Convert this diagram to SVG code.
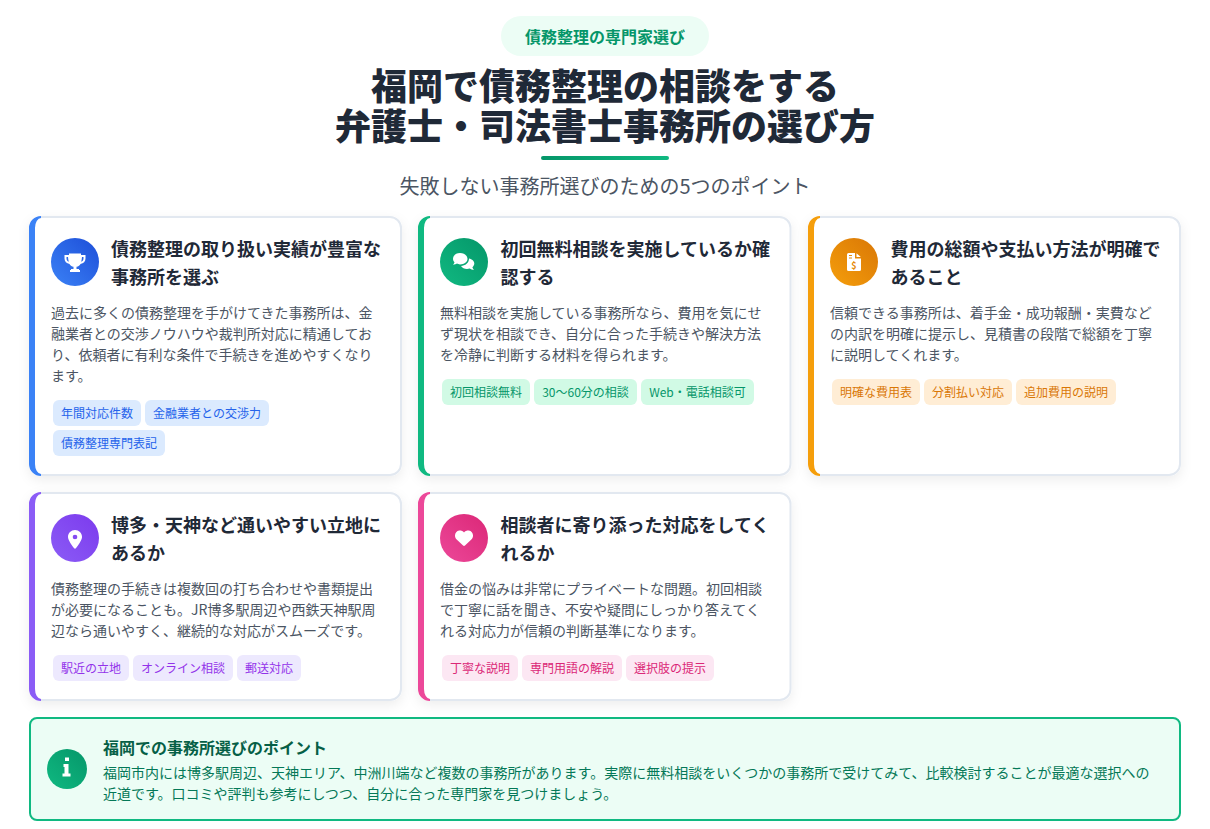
<svg xmlns="http://www.w3.org/2000/svg" width="1210" height="829" viewBox="0 0 1210 829">
<style>
text{font-family:"Noto Sans CJK JP","Noto Sans",sans-serif}
.title{font-size:18px;font-weight:700;fill:#1f2937}
.body{font-size:14px;fill:#4b5563}
.tag{font-size:12px;text-anchor:middle}
.card{fill:#fff;filter:url(#sh)}
.bd{fill:#e2e8f0}
.i{fill:#fff}
.blue .tr{fill:#dbeafe}.blue .tag{fill:#2563eb}.blue .lb{fill:#3b82f6}
.green .tr{fill:#d1fae5}.green .tag{fill:#059669}.green .lb{fill:#10b981}
.orange .tr{fill:#ffedd5}.orange .tag{fill:#d97706}.orange .lb{fill:#f59e0b}
.purple .tr{fill:#ede9fe}.purple .tag{fill:#9333ea}.purple .lb{fill:#8b5cf6}
.pink .tr{fill:#fce7f3}.pink .tag{fill:#db2777}.pink .lb{fill:#ec4899}
</style>
<defs>
<filter id="sh" x="-10%" y="-10%" width="120%" height="125%"><feDropShadow dx="0" dy="4" stdDeviation="6" flood-color="#000" flood-opacity="0.07"/></filter>
<linearGradient id="gb" x1="0" y1="1" x2="1" y2="0"><stop offset="0" stop-color="#3b82f6"/><stop offset="1" stop-color="#1d4ed8"/></linearGradient>
<linearGradient id="gg" x1="0" y1="1" x2="1" y2="0"><stop offset="0" stop-color="#10b981"/><stop offset="1" stop-color="#059669"/></linearGradient>
<linearGradient id="go" x1="0" y1="1" x2="1" y2="0"><stop offset="0" stop-color="#f59e0b"/><stop offset="1" stop-color="#d97706"/></linearGradient>
<linearGradient id="gp" x1="0" y1="1" x2="1" y2="0"><stop offset="0" stop-color="#8b5cf6"/><stop offset="1" stop-color="#7c3aed"/></linearGradient>
<linearGradient id="gk" x1="0" y1="1" x2="1" y2="0"><stop offset="0" stop-color="#ec4899"/><stop offset="1" stop-color="#db2777"/></linearGradient>
<linearGradient id="gl" x1="0" y1="0" x2="1" y2="0"><stop offset="0" stop-color="#059669"/><stop offset="1" stop-color="#10b981"/></linearGradient>
</defs>
<rect width="1210" height="829" fill="#fff"/>

<g id="header">
<rect x="501" y="16" width="208" height="40" rx="20" fill="#ecfdf5"/>
<text x="605" y="43" font-size="16" font-weight="700" fill="#059669" text-anchor="middle">債務整理の専門家選び</text>
<text x="605" y="100" font-size="36" font-weight="900" fill="#1f2937" text-anchor="middle">福岡で債務整理の相談をする</text>
<text x="605" y="140" font-size="36" font-weight="900" fill="#1f2937" text-anchor="middle">弁護士・司法書士事務所の選び方</text>
<rect x="541" y="156" width="128" height="4" rx="2" fill="url(#gl)"/>
<text x="605" y="194" font-size="20" fill="#4b5563" text-anchor="middle">失敗しない事務所選びのための5つのポイント</text>
</g>

<g id="card-1" class="blue">
<rect class="card" x="29" y="216" width="373" height="260" rx="12"/>
<path class="bd" fill-rule="evenodd" d="M41 216H390a12 12 0 0 1 12 12V464a12 12 0 0 1-12 12H41V474H390a10 10 0 0 0 10-10V228a10 10 0 0 0-10-10H41z"/>
<path class="lb" d="M41 216a12 12 0 0 0-12 12V464a12 12 0 0 0 12 12 l0-2a6 10 0 0 1-6-10V228a6 10 0 0 1 6-10z"/>
<circle cx="75" cy="262" r="24" fill="url(#gb)"/>
<path class="i" d="M69 253.500H81V255H85.500V258.500C85.500 261.500 83.500 263.500 80.500 264C79.800 265.500 78.500 266.500 76.500 266.800V269H79V270H80V272H70V270H71V269H73.500V266.800C71.500 266.500 70.200 265.500 69.500 264C66.500 263.500 64.500 261.500 64.500 258.500V255H69ZM66.500 257V258.500C66.500 260 67.300 261.200 68.800 261.800C68.400 260.500 68.100 258.800 68 257ZM83.500 257H82C81.900 258.800 81.600 260.500 81.200 261.800C82.700 261.200 83.500 260 83.500 258.500Z"/>
<text class="title" x="111" y="256">債務整理の取り扱い実績が豊富な</text>
<text class="title" x="111" y="284">事務所を選ぶ</text>
<text class="body" x="51" y="318">過去に多くの債務整理を手がけてきた事務所は、金</text>
<text class="body" x="51" y="339">融業者との交渉ノウハウや裁判所対応に精通してお</text>
<text class="body" x="51" y="360">り、依頼者に有利な条件で手続きを進めやすくなり</text>
<text class="body" x="51" y="381">ます。</text>
<rect class="tr" x="53" y="400" width="88" height="26" rx="6"/><text class="tag" x="97" y="418">年間対応件数</text>
<rect class="tr" x="145" y="400" width="124" height="26" rx="6"/><text class="tag" x="207" y="418">金融業者との交渉力</text>
<rect class="tr" x="53" y="430" width="112" height="26" rx="6"/><text class="tag" x="109" y="448">債務整理専門表記</text>
</g>

<g id="card-2" class="green">
<rect class="card" x="418" y="216" width="373.500" height="260" rx="12"/>
<path class="bd" fill-rule="evenodd" d="M430 216H779.500a12 12 0 0 1 12 12V464a12 12 0 0 1-12 12H430V474H779.500a10 10 0 0 0 10-10V228a10 10 0 0 0-10-10H430z"/>
<path class="lb" d="M430 216a12 12 0 0 0-12 12V464a12 12 0 0 0 12 12 l0-2a6 10 0 0 1-6-10V228a6 10 0 0 1 6-10z"/>
<circle cx="464" cy="262" r="24" fill="url(#gg)"/>
<path class="i" d="M460 253C455.800 253 453 255.700 453 258.800C453 260.200 453.600 261.400 454.500 262.300C454.200 263.400 453.500 264.300 453 264.800C454.600 264.800 456 264.200 456.900 263.600C457.900 264.100 458.900 264.400 460 264.400C464.200 264.400 467.500 262 467.500 258.800C467.500 255.700 464.200 253 460 253Z"/>
<path class="i" d="M469 258.500C469.100 262.900 465.200 265.800 461 266C462.200 268 464.500 269 467 269C468 269 469 268.800 469.800 268.500C470.800 269.200 472.200 269.800 474 269.800C473.400 269.200 472.700 268.300 472.400 267.300C473.400 266.400 474.300 265 474.300 263.500C474.300 261 472 259 469 258.500Z"/>
<text class="title" x="500.500" y="256">初回無料相談を実施しているか確</text>
<text class="title" x="500.500" y="284">認する</text>
<text class="body" x="440" y="318">無料相談を実施している事務所なら、費用を気にせ</text>
<text class="body" x="440" y="339">ず現状を相談でき、自分に合った手続きや解決方法</text>
<text class="body" x="440" y="360">を冷静に判断する材料を得られます。</text>
<rect class="tr" x="442" y="379" width="88" height="26" rx="6"/><text class="tag" x="486" y="397">初回相談無料</text>
<rect class="tr" x="534" y="379" width="103" height="26" rx="6"/><text class="tag" x="585.500" y="397">30～60分の相談</text>
<rect class="tr" x="641" y="379" width="113" height="26" rx="6"/><text class="tag" x="697.500" y="397">Web・電話相談可</text>
</g>

<g id="card-3" class="orange">
<rect class="card" x="808" y="216" width="373" height="260" rx="12"/>
<path class="bd" fill-rule="evenodd" d="M820 216H1169a12 12 0 0 1 12 12V464a12 12 0 0 1-12 12H820V474H1169a10 10 0 0 0 10-10V228a10 10 0 0 0-10-10H820z"/>
<path class="lb" d="M820 216a12 12 0 0 0-12 12V464a12 12 0 0 0 12 12 l0-2a6 10 0 0 1-6-10V228a6 10 0 0 1 6-10z"/>
<circle cx="854" cy="262" r="24" fill="url(#go)"/>
<path class="i" d="M848.500 253H855V258.500H861V269.500A1.500 1.500 0 0 1 859.500 271H848.500A1.500 1.500 0 0 1 847 269.500V254.500A1.500 1.500 0 0 1 848.500 253ZM856.500 253.200L860.800 257H856.500Z"/>
<path d="M849 255.500h3M849 258h3" stroke="#e58a0a" stroke-width="1" fill="none"/>
<text x="854" y="269" font-size="9" font-weight="700" fill="#e58a0a" text-anchor="middle" font-family="Liberation Sans">$</text>
<text class="title" x="890.500" y="256">費用の総額や支払い方法が明確で</text>
<text class="title" x="890.500" y="284">あること</text>
<text class="body" x="830" y="318">信頼できる事務所は、着手金・成功報酬・実費など</text>
<text class="body" x="830" y="339">の内訳を明確に提示し、見積書の段階で総額を丁寧</text>
<text class="body" x="830" y="360">に説明してくれます。</text>
<rect class="tr" x="832" y="379" width="88" height="26" rx="6"/><text class="tag" x="876" y="397">明確な費用表</text>
<rect class="tr" x="924" y="379" width="88" height="26" rx="6"/><text class="tag" x="968" y="397">分割払い対応</text>
<rect class="tr" x="1016" y="379" width="100" height="26" rx="6"/><text class="tag" x="1066" y="397">追加費用の説明</text>
</g>

<g id="card-4" class="purple">
<rect class="card" x="29" y="492" width="373" height="209" rx="12"/>
<path class="bd" fill-rule="evenodd" d="M41 492H390a12 12 0 0 1 12 12V689a12 12 0 0 1-12 12H41V699H390a10 10 0 0 0 10-10V504a10 10 0 0 0-10-10H41z"/>
<path class="lb" d="M41 492a12 12 0 0 0-12 12V689a12 12 0 0 0 12 12 l0-2a6 10 0 0 1-6-10V504a6 10 0 0 1 6-10z"/>
<circle cx="75" cy="538" r="24" fill="url(#gp)"/>
<path class="i" transform="translate(68 530) scale(0.0365)" d="M215.700 499.200C267 435 384 279.400 384 192C384 86 298 0 192 0S0 86 0 192c0 87.400 117 243 168.300 307.200c12.300 15.300 35.100 15.300 47.400 0zM192 128a64 64 0 1 1 0 128 64 64 0 1 1 0-128z"/>
<text class="title" x="111" y="532">博多・天神など通いやすい立地に</text>
<text class="title" x="111" y="560">あるか</text>
<text class="body" x="51" y="594">債務整理の手続きは複数回の打ち合わせや書類提出</text>
<text class="body" x="51" y="615">が必要になることも。JR博多駅周辺や西鉄天神駅周</text>
<text class="body" x="51" y="636">辺なら通いやすく、継続的な対応がスムーズです。</text>
<rect class="tr" x="53" y="655" width="76" height="26" rx="6"/><text class="tag" x="91" y="673">駅近の立地</text>
<rect class="tr" x="133" y="655" width="100" height="26" rx="6"/><text class="tag" x="183" y="673">オンライン相談</text>
<rect class="tr" x="237" y="655" width="64" height="26" rx="6"/><text class="tag" x="269" y="673">郵送対応</text>
</g>

<g id="card-5" class="pink">
<rect class="card" x="418" y="492" width="373.500" height="209" rx="12"/>
<path class="bd" fill-rule="evenodd" d="M430 492H779.500a12 12 0 0 1 12 12V689a12 12 0 0 1-12 12H430V699H779.500a10 10 0 0 0 10-10V504a10 10 0 0 0-10-10H430z"/>
<path class="lb" d="M430 492a12 12 0 0 0-12 12V689a12 12 0 0 0 12 12 l0-2a6 10 0 0 1-6-10V504a6 10 0 0 1 6-10z"/>
<circle cx="464" cy="538" r="24" fill="url(#gk)"/>
<path class="i" transform="translate(455 529) scale(0.0352)" d="M47.600 300.400L228.300 469.100c7.500 7 17.400 10.900 27.700 10.900s20.200-3.900 27.700-10.900L464.400 300.400c30.400-28.300 47.600-68 47.600-109.500v-5.800c0-69.900-50.500-129.500-119.400-141C347 36.500 300.600 51.400 268 84L256 96 244 84c-32.600-32.600-79-47.500-124.600-39.900C50.500 55.600 0 115.200 0 185.100v5.800c0 41.500 17.200 81.200 47.600 109.500z"/>
<text class="title" x="500.500" y="532">相談者に寄り添った対応をしてく</text>
<text class="title" x="500.500" y="560">れるか</text>
<text class="body" x="440" y="594">借金の悩みは非常にプライベートな問題。初回相談</text>
<text class="body" x="440" y="615">で丁寧に話を聞き、不安や疑問にしっかり答えてく</text>
<text class="body" x="440" y="636">れる対応力が信頼の判断基準になります。</text>
<rect class="tr" x="442" y="655" width="76" height="26" rx="6"/><text class="tag" x="480" y="673">丁寧な説明</text>
<rect class="tr" x="522" y="655" width="100" height="26" rx="6"/><text class="tag" x="572" y="673">専門用語の解説</text>
<rect class="tr" x="626" y="655" width="88" height="26" rx="6"/><text class="tag" x="670" y="673">選択肢の提示</text>
</g>

<g id="note">
<rect x="30" y="718" width="1150" height="102" rx="7" fill="#ecfdf5" stroke="#10b981" stroke-width="2"/>
<circle cx="67" cy="769" r="20" fill="url(#gg)"/>
<path class="i" d="M65 757.500h4v3.500h-4zM63.500 764h5v9.500h2v3h-8v-3h2v-6.500h-1z"/>
<text x="103" y="754" font-size="16" font-weight="700" fill="#065f46">福岡での事務所選びのポイント</text>
<text x="103" y="778" font-size="14" fill="#047857">福岡市内には博多駅周辺、天神エリア、中洲川端など複数の事務所があります。実際に無料相談をいくつかの事務所で受けてみて、比較検討することが最適な選択への</text>
<text x="103" y="799" font-size="14" fill="#047857">近道です。口コミや評判も参考にしつつ、自分に合った専門家を見つけましょう。</text>
</g>
</svg>
